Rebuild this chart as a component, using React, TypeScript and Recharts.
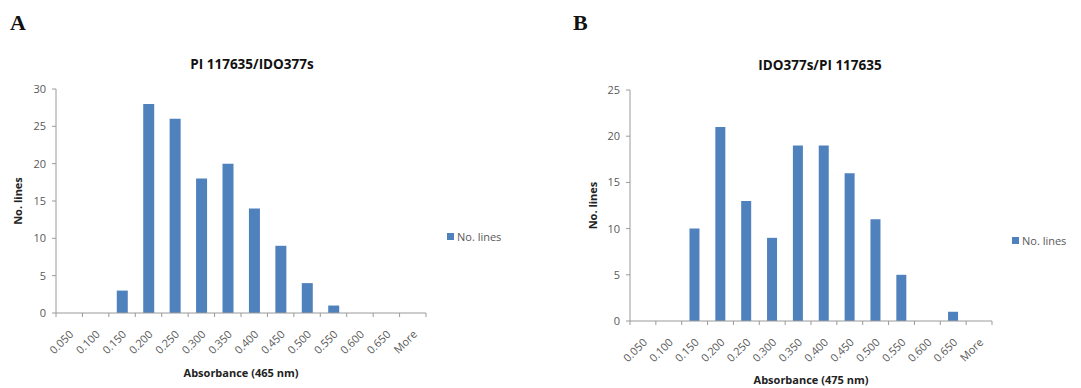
import { BarChart, Bar, XAxis, YAxis, Legend, Label } from 'recharts';

// categories (histogram bins)
const bins = ['0.050', '0.100', '0.150', '0.200', '0.250', '0.300', '0.350', '0.400', '0.450', '0.500', '0.550', '0.600', '0.650', 'More'];
// counts per bin
const countsA = [0, 0, 3, 28, 26, 18, 20, 14, 9, 4, 1, 0, 0, 0];
const countsB = [0, 0, 10, 21, 13, 9, 19, 19, 16, 11, 5, 0, 1, 0];
const ticksA = [0, 5, 10, 15, 20, 25, 30];
const ticksB = [0, 5, 10, 15, 20, 25];

const dataA = bins.map((bin, i) => ({ bin, lines: countsA[i] }));
const dataB = bins.map((bin, i) => ({ bin, lines: countsB[i] }));

const BAR = '#4f81bd';
const AXIS = '#9a9a9a';
const TXT = '#595959';
const FONT = '"Open Sans", "Liberation Sans", sans-serif';

// Excel-style x tick: marks between categories, rotated label
const BinTick = (props: any) => {
  const { x, y, payload, index } = props;
  const half = payload.offset ?? 0;
  const last = index === bins.length - 1;
  return (
    <g>
      <line x1={x - half} x2={x - half} y1={y} y2={y + 4} stroke={AXIS} />
      {last && <line x1={x + half} x2={x + half} y1={y} y2={y + 4} stroke={AXIS} />}
      <text
        x={x + 5}
        y={y + 22}
        textAnchor="end"
        fontSize={11}
        fill={TXT}
        fontFamily={FONT}
        transform={`rotate(-45, ${x + 5}, ${y + 22})`}
      >
        {payload.value}
      </text>
    </g>
  );
};

const LegendBox = () => (
  <div style={{ display: 'flex', alignItems: 'center', fontFamily: FONT, fontSize: 11, color: TXT }}>
    <span style={{ width: 7, height: 7, background: BAR, display: 'inline-block', marginRight: 3 }} />
    No. lines
  </div>
);

const YTitle = (dx: number) => (p: any) => {
  const vb = p.viewBox;
  const cx = vb.x + dx;
  const cy = vb.y + vb.height / 2;
  return (
    <text
      x={cx}
      y={cy}
      textAnchor="middle"
      dominantBaseline="central"
      fontSize={11}
      fontWeight="bold"
      fill="#222"
      fontFamily={FONT}
      transform={`rotate(-90, ${cx}, ${cy})`}
    >
      No. lines
    </text>
  );
};

function Panel(props: {
  left: number;
  width: number;
  data: any[];
  ticks: number[];
  max: number;
  margin: any;
  xHeight: number;
  yDx: number;
  xTitle: string;
  legendLeft: number;
  legendTop: number;
}) {
  return (
    <div style={{ position: 'absolute', left: props.left, top: 0 }}>
      <BarChart width={props.width} height={388} data={props.data} margin={props.margin} barCategoryGap="30%">
        <XAxis
          dataKey="bin"
          interval={0}
          tickSize={0}
          tickMargin={0}
          stroke={AXIS}
          tick={<BinTick />}
          height={props.xHeight}
        >
          <Label
            value={props.xTitle}
            position="insideBottom"
            offset={0}
            style={{ fontSize: 11, fontWeight: 'bold', fill: '#222', fontFamily: FONT }}
          />
        </XAxis>
        <YAxis
          width={30}
          domain={[0, props.max]}
          ticks={props.ticks}
          tickSize={4}
          tickMargin={6}
          stroke={AXIS}
          tick={{ fontSize: 11, fill: TXT, fontFamily: FONT }}
        >
          <Label content={YTitle(props.yDx)} />
        </YAxis>
        <Legend
          layout="horizontal"
          verticalAlign="middle"
          align="center"
          content={<LegendBox />}
          wrapperStyle={{ left: props.legendLeft, top: props.legendTop, width: 'auto' }}
        />
        <Bar dataKey="lines" name="No. lines" fill={BAR} isAnimationActive={false} />
      </BarChart>
    </div>
  );
}

const titleStyle: any = {
  position: 'absolute',
  width: 300,
  textAlign: 'center',
  fontFamily: FONT,
  fontWeight: 'bold',
  fontSize: 13.5,
  color: '#111',
  lineHeight: '16px',
};

const letterStyle: any = {
  position: 'absolute',
  fontFamily: '"Liberation Serif", "DejaVu Serif", serif',
  fontWeight: 'bold',
  fontSize: 22,
  color: '#111',
  lineHeight: '22px',
};

export default function App() {
  return (
    <div style={{ position: 'absolute', left: 0, top: 0, width: 1081, height: 388, background: '#fff', overflow: 'hidden' }}>
      <div style={{ ...letterStyle, left: 10, top: 12 }}>A</div>
      <div style={{ ...letterStyle, left: 573, top: 12 }}>B</div>
      <div style={{ ...titleStyle, left: 252 - 150, top: 56 }}>PI 117635/IDO377s</div>
      <div style={{ ...titleStyle, left: 820 - 150, top: 57 }}>IDO377s/PI 117635</div>
      <Panel
        left={0}
        width={540}
        data={dataA}
        ticks={ticksA}
        max={30}
        margin={{ top: 89, right: 114, bottom: 11, left: 26 }}
        xHeight={64}
        yDx={-9}
        xTitle="Absorbance (465 nm)"
        legendLeft={447}
        legendTop={229}
      />
      <Panel
        left={540}
        width={541}
        data={dataB}
        ticks={ticksB}
        max={25}
        margin={{ top: 90, right: 89, bottom: 4, left: 60 }}
        xHeight={63}
        yDx={-8}
        xTitle="Absorbance (475 nm)"
        legendLeft={472}
        legendTop={233}
      />
    </div>
  );
}
